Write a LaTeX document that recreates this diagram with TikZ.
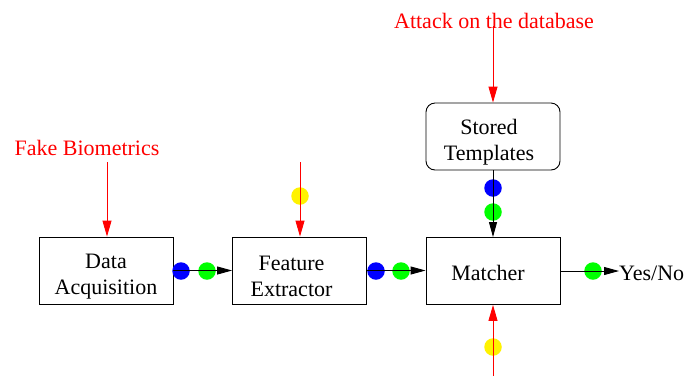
\documentclass[tikz,border=0pt]{standalone}
\usepackage{fontspec}
\setmainfont{Liberation Serif}
\usetikzlibrary{arrows.meta}
\begin{document}
\begin{tikzpicture}[x=1pt,y=-1pt,
 box/.style={draw, line width=0.9pt, minimum width=134pt, minimum height=67pt, inner sep=0pt},
 txt/.style={align=center, inner sep=0pt, font=\fontsize{22}{26}\selectfont},
 lbl/.style={font=\fontsize{22}{26}\selectfont, inner sep=0pt},
 dot/.style={circle, minimum size=17.5pt, inner sep=0pt, fill=#1},
 flow/.style={line width=0.9pt, -{Triangle[length=15pt,width=8pt]}},
 attack/.style={red, line width=0.9pt, -{Triangle[length=16pt,width=9pt]}}]
\useasboundingbox (0,0) rectangle (688,376);
% blocks
\node[box] (da) at (106,270.5) {};
\node[box] (fe) at (299.5,270.5) {};
\node[box] (m) at (493,271) {};
\node[box, rounded corners=9pt] (st) at (493,136.5) {};
% block texts
\node[txt] (dat) at ([yshift=-6pt]da.center) {Data\\Acquisition};
\node[txt] (fet) at ([xshift=-8pt,yshift=-6pt]fe.center) {Feature\\Extractor};
\node[txt] (mt) at ([xshift=-5pt,yshift=-2pt]m.center) {Matcher};
\node[txt] (stt) at ([xshift=-4pt,yshift=-6pt]st.center) {Stored\\Templates};
% labels
\node[lbl, red, anchor=base] (fb) at (87,155) {Fake Biometrics};
\node[lbl, red, anchor=base] (ad) at (494,28) {Attack on the database};
\node[lbl, anchor=base west] (yn) at (619,280) {Yes/No};
% free ends
\coordinate (fbs) at (107,162);
\coordinate (fes) at (300,162);
\coordinate (ads) at (493,26);
\coordinate (ms) at (493,376);
% dots
\node[dot=blue] (b1) at (181,271) {};
\node[dot=green] (g1) at (207,271) {};
\node[dot=blue] (b2) at (376,271) {};
\node[dot=green] (g2) at (401,271) {};
\node[dot=blue] (b3) at (493,188) {};
\node[dot=green] (g3) at (493,212) {};
\node[dot=green] (g4) at (593,271) {};
\node[dot=yellow] (y1) at (300,196) {};
\node[dot=yellow] (y2) at (493,347) {};
% connectors
\draw[flow] (da.east) -- (fe.west);
\draw[flow] (fe.east) -- (fe.east -| m.west);
\draw[flow] (st.south) -- (m.north);
\draw[flow] (m.east) -- (m.east -| yn.west);
\draw[attack] (fbs) -- (fbs |- da.north);
\draw[attack] (fes) -- (fes |- fe.north);
\draw[attack] (ads) -- (st.north);
\draw[attack] (ms) -- (m.south);
\end{tikzpicture}
\end{document}
